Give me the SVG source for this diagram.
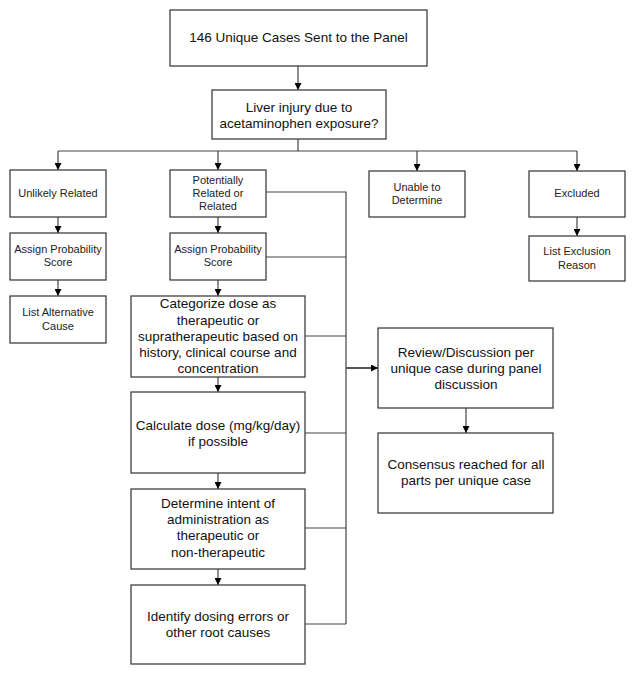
<svg xmlns="http://www.w3.org/2000/svg" width="635" height="675" viewBox="0 0 635 675">
<defs>
<marker id="ah" viewBox="0 0 10 10" refX="10" refY="5" markerWidth="7" markerHeight="7" markerUnits="userSpaceOnUse" orient="auto">
<path d="M0,0 L10,5 L0,10 z" fill="#000"/>
</marker>
<style>
.box{fill:#fff;stroke:#404040;stroke-width:1.3}
.c{fill:none;stroke:#444;stroke-width:1.2}
.ca{fill:none;stroke:#444;stroke-width:1.2;marker-end:url(#ah)}
.s{font-family:"Liberation Sans",Arial,sans-serif;font-size:11px;fill:#222;text-anchor:middle}
.m{font-family:"Liberation Sans",Arial,sans-serif;font-size:13.5px;fill:#111;text-anchor:middle}
</style>
</defs>
<rect width="635" height="675" fill="#fff"/>
<g id="connectors">
<path class="ca" d="M298,66 V90"/>
<path class="c" d="M298,139 V151 M58,151 H577"/>
<path class="ca" d="M58,151 V170"/>
<path class="ca" d="M218,151 V170"/>
<path class="ca" d="M417,151 V171"/>
<path class="ca" d="M577,151 V171"/>
<path class="ca" d="M58,217 V233"/>
<path class="ca" d="M58,280 V296"/>
<path class="ca" d="M218,217 V233"/>
<path class="ca" d="M218,280 V296"/>
<path class="ca" d="M218,377 V392"/>
<path class="ca" d="M218,473 V489"/>
<path class="ca" d="M218,569 V585"/>
<path class="ca" d="M577,217 V236"/>
<path class="c" d="M266,192 H346 V624 M266,257 H346 M305,336 H346 M305,433 H346 M305,528 H346 M305,624 H346"/>
<path class="ca" d="M346,368 H378" style="stroke-width:1.8"/>
<path class="ca" d="M466,408 V433"/>
</g>
<g id="n1"><rect class="box" x="170" y="10" width="257" height="56"/><text class="m" x="298.5" y="42">146 Unique Cases Sent to the Panel</text></g>
<g id="n2"><rect class="box" x="212" y="90" width="174" height="49"/><text class="m" x="299" y="112">Liver injury due to</text><text class="m" x="299" y="128">acetaminophen exposure?</text></g>
<g id="n3"><rect class="box" x="10" y="170" width="96" height="47"/><text class="s" x="58" y="197">Unlikely Related</text></g>
<g id="n4"><rect class="box" x="10" y="233" width="96" height="47"/><text class="s" x="58" y="253">Assign Probability</text><text class="s" x="58" y="266">Score</text></g>
<g id="n5"><rect class="box" x="10" y="296" width="96" height="47"/><text class="s" x="58" y="316">List Alternative</text><text class="s" x="58" y="330">Cause</text></g>
<g id="n6"><rect class="box" x="170" y="170" width="96" height="47"/><text class="s" x="218" y="184">Potentially</text><text class="s" x="218" y="197">Related or</text><text class="s" x="218" y="210">Related</text></g>
<g id="n7"><rect class="box" x="170" y="233" width="96" height="47"/><text class="s" x="218" y="253">Assign Probability</text><text class="s" x="218" y="266">Score</text></g>
<g id="n8"><rect class="box" x="131" y="296" width="174" height="81"/><text class="m" x="218" y="308">Categorize dose as</text><text class="m" x="218" y="325">therapeutic or</text><text class="m" x="218" y="341">supratherapeutic based on</text><text class="m" x="218" y="357">history, clinical course and</text><text class="m" x="218" y="373">concentration</text></g>
<g id="n9"><rect class="box" x="131" y="392" width="174" height="81"/><text class="m" x="218" y="430">Calculate dose (mg/kg/day)</text><text class="m" x="218" y="446">if possible</text></g>
<g id="n10"><rect class="box" x="131" y="489" width="174" height="80"/><text class="m" x="218" y="508">Determine intent of</text><text class="m" x="218" y="524">administration as</text><text class="m" x="218" y="540">therapeutic or</text><text class="m" x="218" y="557">non-therapeutic</text></g>
<g id="n11"><rect class="box" x="131" y="585" width="174" height="79"/><text class="m" x="218" y="621">Identify dosing errors or</text><text class="m" x="218" y="637">other root causes</text></g>
<g id="n12"><rect class="box" x="369" y="171" width="96" height="46"/><text class="s" x="417" y="191">Unable to</text><text class="s" x="417" y="204">Determine</text></g>
<g id="n13"><rect class="box" x="529" y="171" width="96" height="46"/><text class="s" x="577" y="197">Excluded</text></g>
<g id="n14"><rect class="box" x="529" y="236" width="96" height="45"/><text class="s" x="577" y="255">List Exclusion</text><text class="s" x="577" y="269">Reason</text></g>
<g id="n15"><rect class="box" x="378" y="328" width="175" height="80"/><text class="m" x="466" y="357">Review/Discussion per</text><text class="m" x="466" y="373">unique case during panel</text><text class="m" x="466" y="389">discussion</text></g>
<g id="n16"><rect class="box" x="378" y="433" width="175" height="80"/><text class="m" x="466" y="469">Consensus reached for all</text><text class="m" x="466" y="485">parts per unique case</text></g>
</svg>
